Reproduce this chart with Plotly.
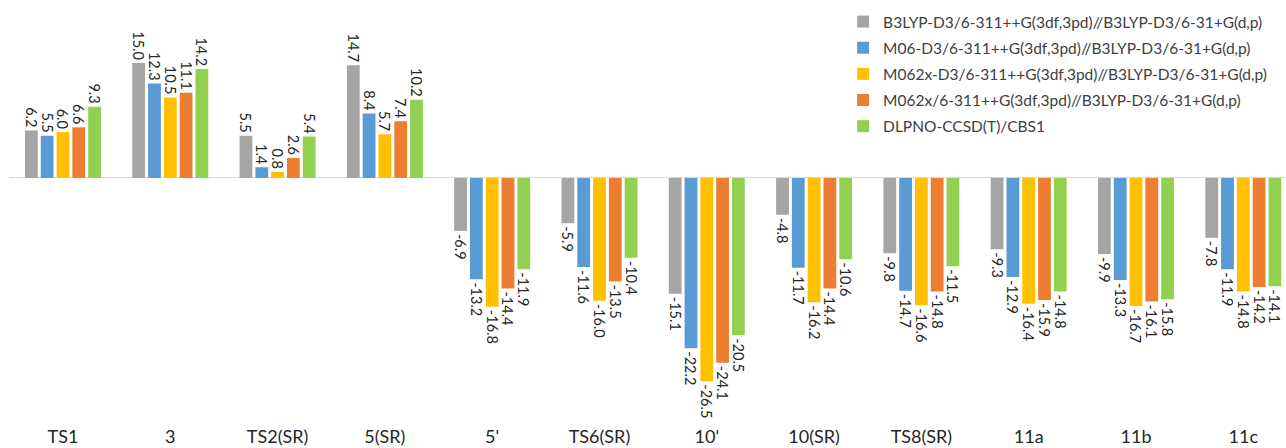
import plotly.graph_objects as go

categories = ["TS1", "3", "TS2(SR)", "5(SR)", "5'", "TS6(SR)", "10'", "10(SR)", "TS8(SR)", "11a", "11b", "11c"]

b3lyp = [6.2, 15.0, 5.5, 14.7, -6.9, -5.9, -15.1, -4.8, -9.8, -9.3, -9.9, -7.8]
m06 = [5.5, 12.3, 1.4, 8.4, -13.2, -11.6, -22.2, -11.7, -14.7, -12.9, -13.3, -11.9]
m062x_d3 = [6.0, 10.5, 0.8, 5.7, -16.8, -16.0, -26.5, -16.2, -16.6, -16.4, -16.7, -14.8]
m062x = [6.6, 11.1, 2.6, 7.4, -14.4, -13.5, -24.1, -14.4, -14.8, -15.9, -16.1, -14.2]
dlpno = [9.3, 14.2, 5.4, 10.2, -11.9, -10.4, -20.5, -10.6, -11.5, -14.8, -15.8, -14.1]

series_names = [
    "B3LYP-D3/6-311++G(3df,3pd)//B3LYP-D3/6-31+G(d,p)",
    "M06-D3/6-311++G(3df,3pd)//B3LYP-D3/6-31+G(d,p)",
    "M062x-D3/6-311++G(3df,3pd)//B3LYP-D3/6-31+G(d,p)",
    "M062x/6-311++G(3df,3pd)//B3LYP-D3/6-31+G(d,p)",
    "DLPNO-CCSD(T)/CBS1",
]
series_values = [b3lyp, m06, m062x_d3, m062x, dlpno]
colors = ["#A5A5A5", "#5B9BD5", "#FFC000", "#ED7D31", "#92D050"]

FONT = "Lato, Open Sans, sans-serif"

fig = go.Figure()
for i, (name, vals, col) in enumerate(zip(series_names, series_values, colors)):
    fig.add_trace(go.Bar(
        x=categories, y=vals, name=name,
        marker=dict(color=col, line=dict(width=0)),
        text=[f"{v:.1f}" for v in vals],
        textposition="outside",
        textangle=90,
        constraintext="none",
        textfont=dict(family=FONT, size=14.5, color="#262626"),
        cliponaxis=False,
        legendgroup=f"g{i}",
    ))

fig.update_layout(
    width=1286, height=448,
    margin=dict(l=9, r=0, t=0, b=28),
    paper_bgcolor="white", plot_bgcolor="white",
    barmode="group", bargap=0.264, bargroupgap=0.19,
    font=dict(family=FONT, color="#404040"),
    legend=dict(
        x=840 / 1286, xanchor="left", y=1.0 - 5 / 420, yanchor="top",
        font=dict(family=FONT, size=15.5, color="#404040"),
        bgcolor="rgba(0,0,0,0)",
        tracegroupgap=3,
        traceorder="grouped",
        itemwidth=30,
    ),
    xaxis=dict(
        range=[-0.503, 11.398],
        showgrid=False, showline=False, ticks="",
        tickfont=dict(family=FONT, size=18, color="#262626"),
        ticklabelstandoff=4,
    ),
    yaxis=dict(
        range=[-31.55, 23.2],
        showgrid=False, showticklabels=False, ticks="",
        zeroline=True, zerolinecolor="#D9D9D9", zerolinewidth=1,
    ),
)

fig.write_html("out.html")
